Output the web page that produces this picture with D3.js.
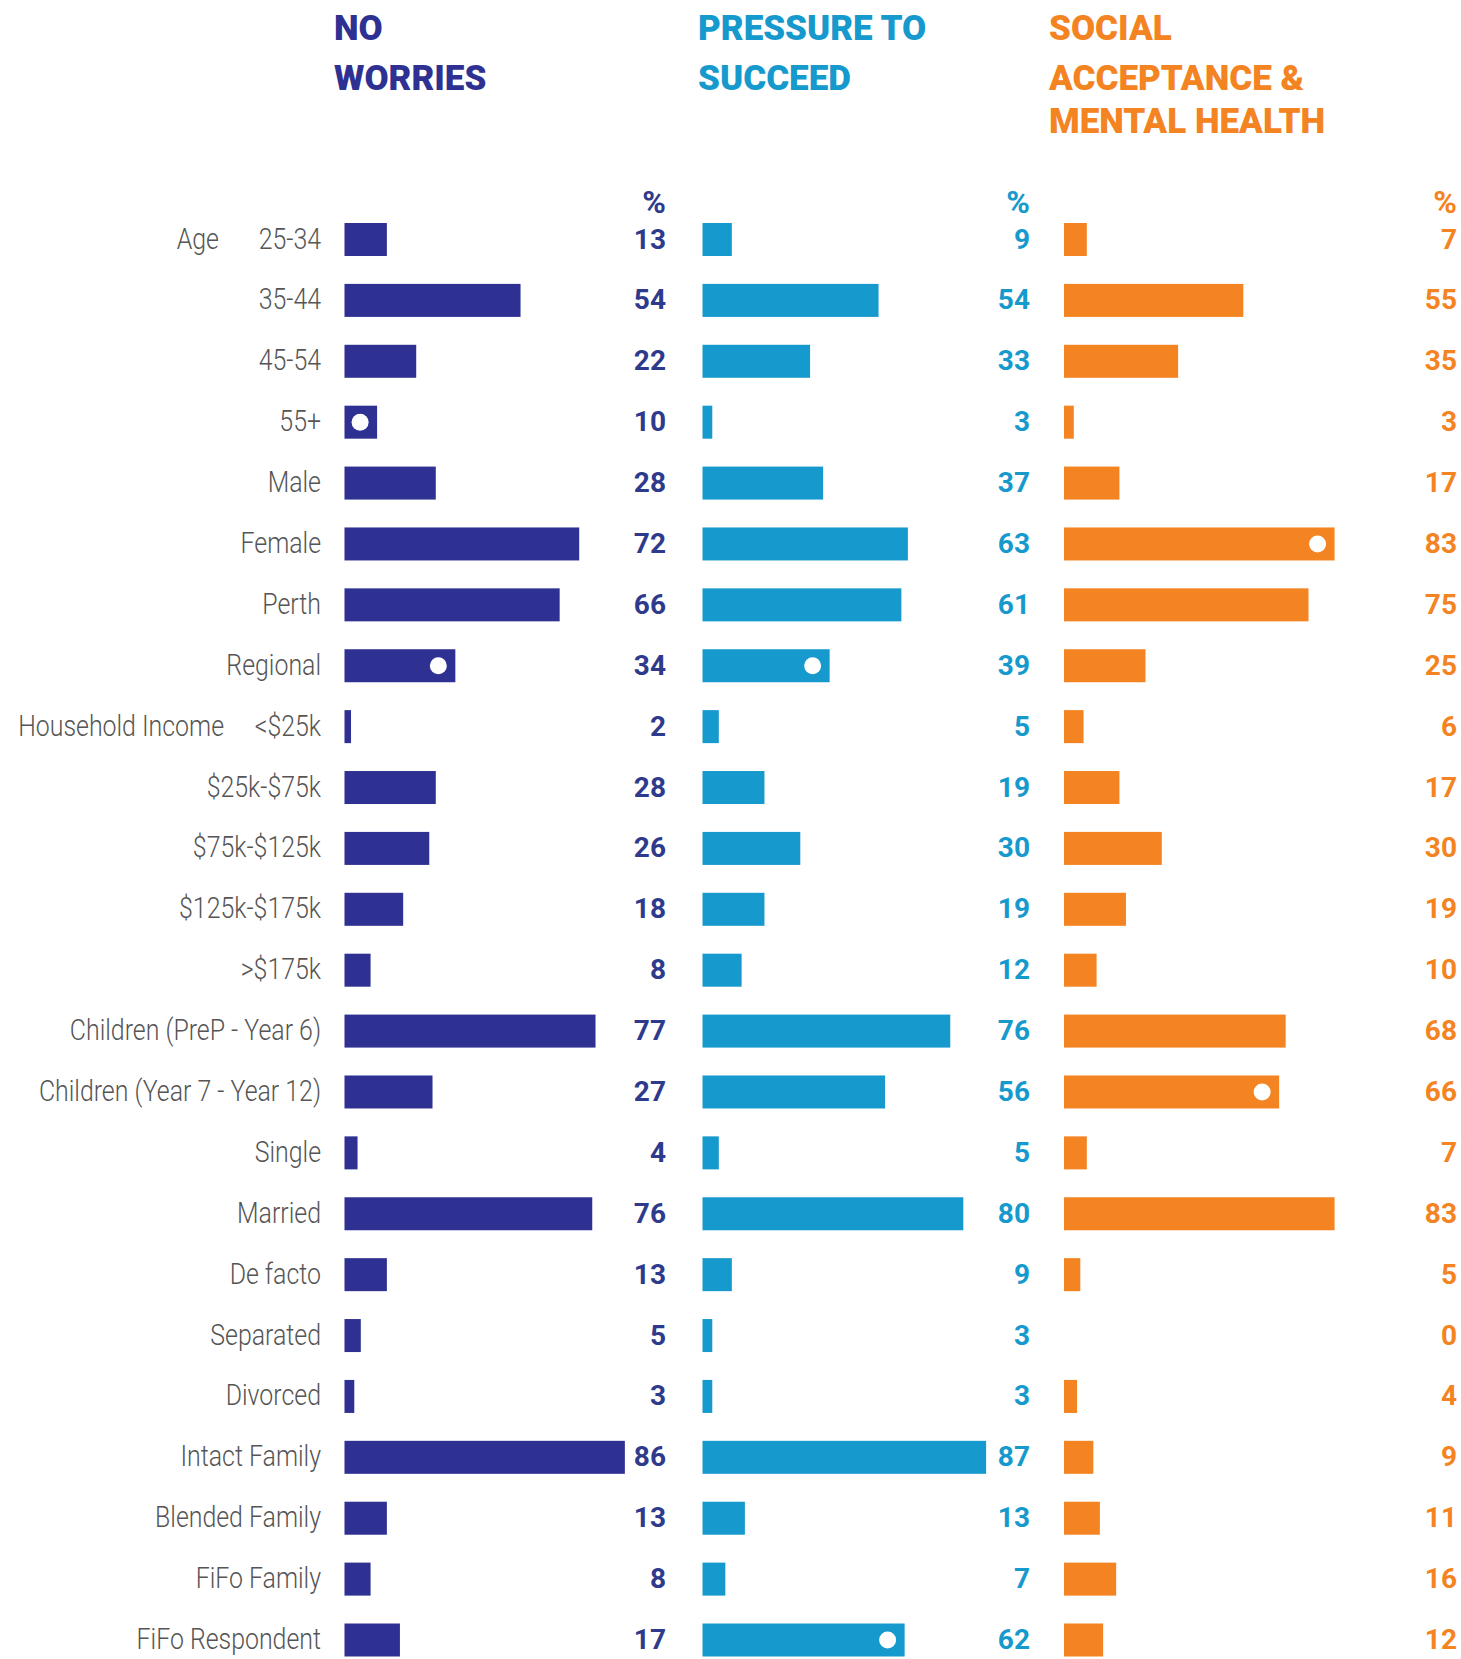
<!DOCTYPE html>
<html>
<head>
<meta charset="utf-8">
<script src="https://cdn.jsdelivr.net/npm/d3@7"></script>
<style>
  body { margin: 0; background: #fff; }
  svg { display: block; }
</style>
</head>
<body>
<div id="chart"></div>
<script>
// rows of the table, top to bottom
const rows = ["25-34", "35-44", "45-54", "55+", "Male", "Female", "Perth", "Regional",
  "<$25k", "$25k-$75k", "$75k-$125k", "$125k-$175k", ">$175k",
  "Children (PreP - Year 6)", "Children (Year 7 - Year 12)",
  "Single", "Married", "De facto", "Separated", "Divorced",
  "Intact Family", "Blended Family", "FiFo Family", "FiFo Respondent"];

// group labels that sit left of the first row of a group
const groupLabels = [
  {row: "25-34", text: "Age"},
  {row: "<$25k", text: "Household Income"}
];

const noWorries = [13, 54, 22, 10, 28, 72, 66, 34, 2, 28, 26, 18, 8, 77, 27, 4, 76, 13, 5, 3, 86, 13, 8, 17];
const pressure  = [9, 54, 33, 3, 37, 63, 61, 39, 5, 19, 30, 19, 12, 76, 56, 5, 80, 9, 3, 3, 87, 13, 7, 62];
const social    = [7, 55, 35, 3, 17, 83, 75, 25, 6, 17, 30, 19, 10, 68, 66, 7, 83, 5, 0, 4, 9, 11, 16, 12];

// rows flagged with a white dot
const dotsNoWorries = ["55+", "Regional"];
const dotsPressure  = ["Regional", "FiFo Respondent"];
const dotsSocial    = ["Female", "Children (Year 7 - Year 12)"];

const titles = [
  ["NO", "WORRIES"],
  ["PRESSURE TO", "SUCCEED"],
  ["SOCIAL", "ACCEPTANCE &", "MENTAL HEALTH"]
];

const width = 1461, height = 1659;

const svg = d3.select('#chart').append('svg')
    .attr('width', width)
    .attr('height', height);

svg.append('rect').attr('width', width).attr('height', height).attr('fill', '#fff');

const y = d3.scalePoint()
    .domain(rows)
    .range([239.5, 1640]);

const barH = 33;

const panels = [
  {values: noWorries, dots: dotsNoWorries, color: '#2e3192', text: '#2e3a8c', x0: 344.5, valX: 666, titleX: 334, title: titles[0]},
  {values: pressure,  dots: dotsPressure,  color: '#1699cc', text: '#1699cc', x0: 702.5, valX: 1030, titleX: 698, title: titles[1]},
  {values: social,    dots: dotsSocial,    color: '#f48322', text: '#f48322', x0: 1064, valX: 1457, titleX: 1049, title: titles[2]}
];

panels.forEach(p => {
  const x = d3.scaleLinear().domain([0, 100]).range([p.x0, p.x0 + 326]);
  const data = rows.map((r, i) => ({row: r, value: p.values[i]}));

  const g = svg.append('g');

  // title
  g.append('text')
      .attr('x', p.titleX)
      .attr('font-family', 'Roboto, sans-serif')
      .attr('font-weight', 900)
      .attr('font-size', 35)
      .attr('fill', p.color)
    .selectAll('tspan')
    .data(p.title)
    .enter().append('tspan')
      .attr('x', p.titleX)
      .attr('y', (d, i) => [40, 90, 133][i])
      .text(d => d);

  // % header
  g.append('text')
      .attr('x', p.valX)
      .attr('y', 213)
      .attr('text-anchor', 'end')
      .attr('font-family', 'Roboto, sans-serif')
      .attr('font-weight', 700)
      .attr('font-size', 32)
      .attr('fill', p.text)
      .text('%');

  g.selectAll('.bar')
    .data(data.filter(d => d.value > 0))
    .enter().append('rect')
      .attr('class', 'bar')
      .attr('x', x(0))
      .attr('y', d => y(d.row) - barH / 2)
      .attr('width', d => x(d.value) - x(0))
      .attr('height', barH)
      .attr('fill', p.color);

  g.selectAll('.dot')
    .data(data.filter(d => p.dots.includes(d.row)))
    .enter().append('circle')
      .attr('class', 'dot')
      .attr('cx', d => x(d.value) - 17)
      .attr('cy', d => y(d.row))
      .attr('r', 8.5)
      .attr('fill', '#fff');

  g.selectAll('.val')
    .data(data)
    .enter().append('text')
      .attr('class', 'val')
      .attr('x', p.valX)
      .attr('y', d => y(d.row) + 9)
      .attr('text-anchor', 'end')
      .attr('font-family', 'Roboto, sans-serif')
      .attr('font-weight', 700)
      .attr('font-size', 28)
      .attr('fill', p.text)
      .text(d => d.value);
});

// row labels, thin and condensed
const labelG = svg.append('g');
labelG.selectAll('.lbl')
  .data(rows)
  .enter().append('text')
    .attr('class', 'lbl')
    .attr('transform', d => `translate(321,${y(d) + 9}) scale(0.83,1)`)
    .attr('text-anchor', 'end')
    .attr('font-family', 'Roboto, sans-serif')
    .attr('font-weight', 300)
    .attr('font-size', 30)
    .attr('fill', '#555')
    .text(d => d);

labelG.selectAll('.grp')
  .data(groupLabels)
  .enter().append('text')
    .attr('class', 'grp')
    .attr('transform', d => d.text === 'Age'
      ? `translate(219,${y(d.row) + 9}) scale(0.83,1)`
      : `translate(224,${y(d.row) + 9}) scale(0.83,1)`)
    .attr('text-anchor', 'end')
    .attr('font-family', 'Roboto, sans-serif')
    .attr('font-weight', 300)
    .attr('font-size', 30)
    .attr('fill', '#555')
    .text(d => d.text);
</script>
</body>
</html>
